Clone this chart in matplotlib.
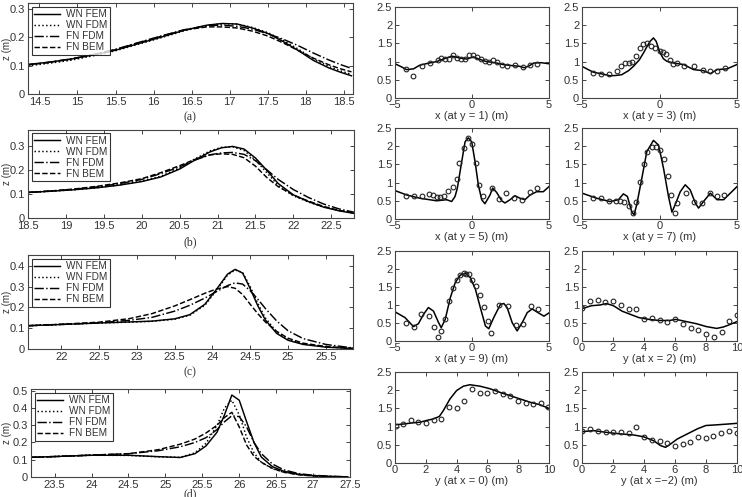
import matplotlib
matplotlib.use("Agg")
import matplotlib.pyplot as plt
from matplotlib.transforms import blended_transform_factory

plt.rcParams['font.family'] = ['Liberation Sans', 'DejaVu Sans']

W, H = 742, 497

# ---------------- left panels data ----------------
legend_labels = ["WN FEM", "WN FDM", "FN FDM", "FN BEM"]
panel_tags = ["(a)", "(b)", "(c)", "(d)"]

xa = [14.35, 14.6, 14.9, 15.2, 15.5, 15.8, 16.1, 16.4, 16.7, 16.9, 17.1, 17.3, 17.5, 17.7, 17.9, 18.1, 18.3, 18.45, 18.6]
a_wn_fem = [0.104, 0.111, 0.122, 0.137, 0.154, 0.177, 0.200, 0.224, 0.242, 0.248, 0.246, 0.232, 0.213, 0.185, 0.153, 0.118, 0.092, 0.077, 0.064]
a_wn_fdm = [0.099, 0.107, 0.118, 0.134, 0.152, 0.175, 0.198, 0.222, 0.241, 0.247, 0.246, 0.234, 0.216, 0.189, 0.158, 0.124, 0.097, 0.082, 0.069]
a_fn_fdm = [0.103, 0.111, 0.123, 0.138, 0.157, 0.181, 0.204, 0.226, 0.240, 0.242, 0.238, 0.228, 0.212, 0.193, 0.170, 0.144, 0.120, 0.104, 0.090]
a_fn_bem = [0.102, 0.110, 0.122, 0.138, 0.156, 0.180, 0.203, 0.225, 0.236, 0.236, 0.232, 0.221, 0.204, 0.180, 0.153, 0.126, 0.103, 0.089, 0.078]

xb = [18.5, 18.8, 19.1, 19.4, 19.7, 20.0, 20.25, 20.5, 20.7, 20.9, 21.05, 21.2, 21.35, 21.5, 21.65, 21.8, 22.0, 22.2, 22.4, 22.6, 22.8]
b_wn_fem = [0.106, 0.111, 0.117, 0.125, 0.136, 0.151, 0.170, 0.203, 0.240, 0.274, 0.291, 0.297, 0.286, 0.249, 0.198, 0.143, 0.096, 0.068, 0.045, 0.030, 0.019]
b_wn_fdm = [0.106, 0.111, 0.117, 0.125, 0.137, 0.153, 0.173, 0.207, 0.245, 0.278, 0.293, 0.295, 0.280, 0.240, 0.188, 0.135, 0.092, 0.066, 0.045, 0.031, 0.020]
b_fn_fdm = [0.106, 0.112, 0.119, 0.129, 0.142, 0.160, 0.184, 0.212, 0.240, 0.262, 0.270, 0.272, 0.264, 0.238, 0.200, 0.160, 0.118, 0.085, 0.058, 0.038, 0.024]
b_fn_bem = [0.106, 0.112, 0.120, 0.131, 0.145, 0.163, 0.188, 0.217, 0.243, 0.262, 0.266, 0.264, 0.250, 0.215, 0.168, 0.130, 0.095, 0.070, 0.048, 0.032, 0.021]

xc = [21.56, 22.0, 22.5, 22.9, 23.2, 23.5, 23.7, 23.9, 24.05, 24.2, 24.3, 24.4, 24.5, 24.6, 24.7, 24.85, 25.0, 25.2, 25.5, 25.86]
c_wn_fem = [0.112, 0.118, 0.125, 0.130, 0.134, 0.145, 0.165, 0.215, 0.285, 0.360, 0.383, 0.365, 0.290, 0.208, 0.140, 0.075, 0.042, 0.022, 0.009, 0.002]
c_wn_fdm = [0.112, 0.118, 0.125, 0.129, 0.133, 0.143, 0.162, 0.210, 0.280, 0.355, 0.380, 0.368, 0.300, 0.220, 0.150, 0.082, 0.046, 0.024, 0.010, 0.003]
c_fn_fdm = [0.112, 0.118, 0.126, 0.138, 0.152, 0.182, 0.210, 0.245, 0.275, 0.305, 0.318, 0.312, 0.280, 0.240, 0.195, 0.135, 0.088, 0.050, 0.022, 0.005]
c_fn_bem = [0.112, 0.119, 0.129, 0.146, 0.170, 0.207, 0.237, 0.268, 0.288, 0.300, 0.292, 0.262, 0.215, 0.170, 0.130, 0.085, 0.052, 0.028, 0.012, 0.003]

xd = [23.18, 23.6, 24.0, 24.5, 24.9, 25.2, 25.4, 25.55, 25.7, 25.8, 25.9, 26.0, 26.1, 26.2, 26.3, 26.45, 26.6, 26.8, 27.0, 27.25, 27.47]
d_wn_fem = [0.114, 0.120, 0.126, 0.126, 0.118, 0.113, 0.135, 0.180, 0.260, 0.360, 0.475, 0.445, 0.320, 0.200, 0.115, 0.060, 0.034, 0.016, 0.008, 0.003, 0.001]
d_wn_fdm = [0.114, 0.120, 0.126, 0.125, 0.117, 0.114, 0.140, 0.195, 0.300, 0.400, 0.445, 0.360, 0.230, 0.140, 0.085, 0.048, 0.028, 0.014, 0.007, 0.003, 0.001]
d_fn_fdm = [0.114, 0.120, 0.127, 0.135, 0.152, 0.175, 0.200, 0.228, 0.275, 0.320, 0.355, 0.350, 0.290, 0.200, 0.135, 0.075, 0.042, 0.020, 0.010, 0.004, 0.001]
d_fn_bem = [0.114, 0.120, 0.127, 0.135, 0.158, 0.190, 0.220, 0.255, 0.300, 0.345, 0.375, 0.290, 0.185, 0.120, 0.085, 0.050, 0.028, 0.013, 0.006, 0.002, 0.001]

left_x = [xa, xb, xc, xd]
left_series = [
    [a_wn_fem, a_wn_fdm, a_fn_fdm, a_fn_bem],
    [b_wn_fem, b_wn_fdm, b_fn_fdm, b_fn_bem],
    [c_wn_fem, c_wn_fdm, c_fn_fdm, c_fn_bem],
    [d_wn_fem, d_wn_fdm, d_fn_fdm, d_fn_bem],
]
left_xlim = [(14.35, 18.62), (18.5, 22.8), (21.56, 25.86), (23.18, 27.5)]
left_ylim = [(0, 0.32), (0, 0.365), (0, 0.452), (0, 0.51)]
left_xticks = [
    [14.5, 15, 15.5, 16, 16.5, 17, 17.5, 18, 18.5],
    [18.5, 19, 19.5, 20, 20.5, 21, 21.5, 22, 22.5],
    [22, 22.5, 23, 23.5, 24, 24.5, 25, 25.5],
    [23.5, 24, 24.5, 25, 25.5, 26, 26.5, 27, 27.5],
]
left_yticks = [[0, 0.1, 0.2, 0.3], [0, 0.1, 0.2, 0.3], [0, 0.1, 0.2, 0.3, 0.4], [0, 0.1, 0.2, 0.3, 0.4, 0.5]]
# pixel boxes (left, top, right, bottom)
left_boxes = [(28, 3, 353, 94), (28, 130, 354, 218), (28, 255, 353, 349), (31, 389, 350, 477)]
tag_y = [117, 242, 372, 494]

# ---------------- right panels data ----------------
r1c1_lx = [-5, -4.6, -4.25, -3.8, -3.4, -2.9, -2.3, -1.8, -1.3, -0.8, -0.35, 0.1, 0.5, 0.95, 1.5, 2.0, 2.6, 3.1, 3.4, 3.7, 4.0, 4.5, 5]
r1c1_ly = [0.94, 0.86, 0.78, 0.80, 0.90, 0.95, 1.0, 1.08, 1.15, 1.10, 1.07, 1.13, 1.06, 1.0, 0.97, 0.92, 0.89, 0.87, 0.83, 0.88, 0.96, 0.97, 0.94]
r1c1_px = [-4.29, -3.8, -3.23, -2.73, -2.23, -2.01, -1.75, -1.49, -1.26, -0.95, -0.74, -0.45, -0.17, 0.09, 0.30, 0.56, 0.84, 1.10, 1.34, 1.60, 1.93, 2.25, 2.79, 3.33, 3.77, 4.24]
r1c1_py = [0.81, 0.61, 0.87, 0.96, 1.04, 1.10, 1.06, 1.06, 1.17, 1.10, 1.07, 1.07, 1.17, 1.17, 1.13, 1.06, 1.01, 1.00, 1.04, 0.98, 0.92, 0.89, 0.90, 0.84, 0.92, 0.94]

r1c2_lx = [-5, -4.6, -4.27, -3.7, -3.19, -2.8, -2.44, -2.0, -1.68, -1.3, -1.03, -0.8, -0.6, -0.39, -0.22, 0.04, 0.25, 0.47, 0.91, 1.55, 2.2, 2.84, 3.28, 3.71, 4.35, 5]
r1c2_ly = [0.87, 0.78, 0.71, 0.66, 0.61, 0.62, 0.64, 0.75, 0.87, 1.05, 1.24, 1.42, 1.56, 1.65, 1.56, 1.24, 1.08, 1.01, 0.96, 0.92, 0.78, 0.75, 0.67, 0.78, 0.80, 0.92]
r1c2_px = [-4.31, -3.77, -3.28, -2.76, -2.50, -2.22, -2.00, -1.79, -1.51, -1.29, -1.08, -0.82, -0.54, -0.28, 0.00, 0.22, 0.43, 0.65, 0.86, 1.12, 1.55, 2.20, 2.80, 3.28, 3.71, 4.25]
r1c2_py = [0.69, 0.67, 0.67, 0.75, 0.87, 0.96, 0.96, 0.98, 1.15, 1.38, 1.49, 1.51, 1.44, 1.38, 1.28, 1.26, 1.21, 1.04, 0.94, 0.96, 0.89, 0.87, 0.78, 0.73, 0.75, 0.83]

r2c1_lx = [-5, -4.24, -3.38, -2.29, -1.65, -1.32, -1.1, -0.95, -0.67, -0.45, -0.24, -0.02, 0.2, 0.41, 0.63, 0.84, 1.17, 1.34, 1.6, 1.93, 2.14, 2.47, 2.79, 3.12, 3.44, 3.77, 4.2, 4.63, 5]
r2c1_ly = [0.78, 0.66, 0.57, 0.50, 0.53, 0.48, 0.62, 0.85, 1.57, 2.12, 2.23, 2.12, 1.57, 0.94, 0.53, 0.42, 0.66, 0.85, 0.73, 0.50, 0.44, 0.53, 0.64, 0.57, 0.53, 0.66, 0.75, 0.75, 0.89]
r2c1_px = [-4.29, -3.74, -3.27, -2.77, -2.51, -2.29, -2.08, -1.82, -1.54, -1.26, -1.00, -0.82, -0.52, -0.24, 0.02, 0.26, 0.48, 0.74, 1.28, 1.77, 2.21, 2.73, 3.23, 3.77, 4.24]
r2c1_py = [0.62, 0.62, 0.64, 0.69, 0.65, 0.60, 0.60, 0.64, 0.78, 0.87, 1.10, 1.55, 1.95, 2.23, 2.05, 1.55, 0.94, 0.62, 0.86, 0.55, 0.71, 0.59, 0.51, 0.75, 0.86]

r2c2_lx = [-5, -4.05, -3.19, -2.65, -2.33, -2.07, -1.79, -1.64, -1.47, -1.14, -0.82, -0.39, -0.06, 0.26, 0.58, 0.8, 1.01, 1.34, 1.66, 1.98, 2.31, 2.52, 2.84, 3.28, 3.71, 4.14, 4.57, 5]
r2c2_ly = [0.71, 0.57, 0.48, 0.53, 0.69, 0.62, 0.19, 0.12, 0.39, 1.12, 1.85, 2.16, 2.03, 1.39, 0.62, 0.19, 0.39, 0.75, 0.94, 0.80, 0.44, 0.30, 0.48, 0.71, 0.53, 0.53, 0.71, 0.89]
r2c2_px = [-4.31, -3.77, -3.28, -2.82, -2.54, -2.26, -2.00, -1.72, -1.53, -1.25, -1.03, -0.78, -0.50, -0.24, 0.00, 0.26, 0.52, 0.75, 0.97, 1.16, 1.72, 2.24, 2.74, 3.28, 3.71, 4.18]
r2c2_py = [0.59, 0.59, 0.49, 0.50, 0.50, 0.48, 0.37, 0.16, 0.48, 1.03, 1.51, 1.85, 1.98, 1.98, 1.89, 1.65, 1.19, 0.65, 0.16, 0.44, 0.71, 0.48, 0.44, 0.71, 0.62, 0.66]

r3c1_lx = [-5, -4.35, -3.8, -3.48, -3.15, -2.83, -2.5, -2.17, -2.0, -1.74, -1.41, -1.09, -0.76, -0.43, -0.11, 0.22, 0.54, 0.87, 1.09, 1.41, 1.85, 2.07, 2.28, 2.61, 2.93, 3.26, 3.59, 3.91, 4.24, 4.67, 5]
r3c1_ly = [0.81, 0.65, 0.40, 0.48, 0.74, 0.93, 0.83, 0.51, 0.37, 0.60, 1.20, 1.62, 1.83, 1.88, 1.76, 1.44, 0.93, 0.42, 0.34, 0.65, 1.02, 1.04, 0.93, 0.51, 0.28, 0.51, 0.79, 0.89, 0.80, 0.69, 0.78]
r3c1_px = [-4.28, -3.74, -3.3, -2.76, -2.5, -2.24, -2.0, -1.74, -1.52, -1.24, -0.98, -0.76, -0.54, -0.37, -0.22, 0.0, 0.28, 0.5, 0.76, 1.02, 1.26, 1.78, 2.33, 2.83, 3.33, 3.8, 4.28]
r3c1_py = [0.51, 0.40, 0.74, 0.69, 0.40, 0.11, 0.28, 0.60, 1.11, 1.48, 1.69, 1.83, 1.88, 1.87, 1.85, 1.69, 1.53, 1.27, 0.94, 0.56, 0.23, 1.0, 0.97, 0.44, 0.48, 0.97, 0.88]

r3c2_lx = [0, 0.61, 1.16, 1.59, 2.03, 2.58, 3.12, 3.67, 4.32, 4.98, 5.63, 6.07, 6.72, 7.38, 8.03, 8.69, 9.13, 9.56, 10]
r3c2_ly = [0.90, 0.98, 1.00, 1.04, 0.98, 0.83, 0.74, 0.65, 0.60, 0.57, 0.57, 0.60, 0.54, 0.48, 0.40, 0.35, 0.39, 0.46, 0.54]
r3c2_px = [0.0, 0.5, 1.0, 1.5, 2.0, 2.5, 3.0, 3.5, 4.0, 4.5, 5.0, 5.5, 6.0, 6.5, 7.0, 7.5, 8.0, 8.5, 9.0, 9.5, 10.0]
r3c2_py = [0.93, 1.11, 1.13, 1.09, 1.11, 1.00, 0.90, 0.90, 0.62, 0.65, 0.58, 0.54, 0.60, 0.46, 0.37, 0.30, 0.20, 0.11, 0.26, 0.56, 0.72]

r4c1_lx = [0, 0.54, 1.08, 1.62, 2.06, 2.49, 2.88, 3.14, 3.57, 4.0, 4.44, 4.87, 5.52, 6.17, 6.82, 7.47, 8.12, 8.77, 9.42, 10]
r4c1_ly = [1.05, 1.07, 1.10, 1.12, 1.17, 1.21, 1.28, 1.44, 1.76, 1.99, 2.11, 2.15, 2.11, 2.04, 1.94, 1.85, 1.76, 1.67, 1.60, 1.50]
r4c1_px = [0.06, 0.52, 1.02, 1.52, 2.01, 2.51, 3.01, 3.51, 4.0, 4.5, 5.0, 5.5, 6.0, 6.49, 6.99, 7.49, 7.99, 8.48, 8.98, 9.48, 9.96]
r4c1_py = [1.03, 1.07, 1.17, 1.14, 1.10, 1.17, 1.21, 1.55, 1.51, 1.70, 2.02, 1.93, 1.93, 1.97, 1.90, 1.83, 1.70, 1.64, 1.62, 1.65, 1.55]

r4c2_lx = [0, 0.74, 1.6, 2.47, 3.33, 3.98, 4.63, 5.06, 5.39, 5.71, 6.15, 6.8, 7.45, 7.99, 8.74, 9.39, 10]
r4c2_ly = [0.86, 0.89, 0.84, 0.80, 0.77, 0.72, 0.61, 0.48, 0.43, 0.52, 0.66, 0.80, 0.94, 1.03, 1.05, 1.07, 1.09]
r4c2_px = [0.0, 0.52, 1.02, 1.52, 2.01, 2.51, 3.01, 3.51, 4.0, 4.5, 5.0, 5.5, 5.99, 6.49, 6.99, 7.49, 7.99, 8.48, 8.98, 9.48, 9.98]
r4c2_py = [0.87, 0.94, 0.89, 0.86, 0.86, 0.84, 0.83, 1.0, 0.71, 0.63, 0.60, 0.55, 0.46, 0.52, 0.59, 0.71, 0.69, 0.75, 0.82, 0.87, 0.83]

right_lines = [(r1c1_lx, r1c1_ly), (r1c2_lx, r1c2_ly), (r2c1_lx, r2c1_ly), (r2c2_lx, r2c2_ly),
               (r3c1_lx, r3c1_ly), (r3c2_lx, r3c2_ly), (r4c1_lx, r4c1_ly), (r4c2_lx, r4c2_ly)]
right_pts = [(r1c1_px, r1c1_py), (r1c2_px, r1c2_py), (r2c1_px, r2c1_py), (r2c2_px, r2c2_py),
             (r3c1_px, r3c1_py), (r3c2_px, r3c2_py), (r4c1_px, r4c1_py), (r4c2_px, r4c2_py)]
right_xlabels = ["x (at y = 1) (m)", "x (at y = 3) (m)", "x (at y = 5) (m)", "x (at y = 7) (m)",
                 "x (at y = 9) (m)", "y (at x = 2) (m)", "y (at x = 0) (m)", "y (at x =\u22122) (m)"]
right_yticks = [0, 0.5, 1, 1.5, 2, 2.5]
right_ytick_labels = ["0", "0.5", "1", "1.5", "2", "2.5"]
right_xticks_a = [-5, 0, 5]
right_xticks_b = [0, 2, 4, 6, 8, 10]
right_kind = ["a", "a", "a", "a", "a", "b", "b", "b"]
right_cols = [(395, 549), (582, 737)]
right_rows = [(7, 98), (128, 219), (251, 341), (372, 463)]

TXT = '#333333'
SP = '#444444'


def add_px_axes(fig, l, t, r, b):
    return fig.add_axes([l / W, 1 - b / H, (r - l) / W, (b - t) / H])


def style(ax):
    for s in ax.spines.values():
        s.set_color(SP)
        s.set_linewidth(0.8)
    ax.tick_params(direction='in', top=True, right=True, length=3, width=0.7,
                   labelsize=8, colors=SP, labelcolor=TXT, pad=2)


fig = plt.figure(figsize=(W / 100, H / 100), dpi=100)
fig.patch.set_facecolor('white')

styles = ['-', ':', '-.', '--']
for i in range(4):
    l, t, r, b = left_boxes[i]
    ax = add_px_axes(fig, l, t, r, b)
    style(ax)
    xs = left_x[i]
    for ys, ls, lab in zip(left_series[i], styles, legend_labels):
        ax.plot(xs, ys, color='black', linestyle=ls, linewidth=1.05, label=lab)
    ax.set_xlim(*left_xlim[i])
    ax.set_ylim(*left_ylim[i])
    ax.set_xticks(left_xticks[i])
    ax.set_xticklabels([('%g' % v) for v in left_xticks[i]])
    ax.set_yticks(left_yticks[i])
    ax.set_yticklabels([('%g' % v) for v in left_yticks[i]])
    ax.set_ylabel('z (m)', fontsize=7, color=TXT)
    ax.yaxis.set_label_coords(11.5 / W, 0.5, transform=blended_transform_factory(fig.transFigure, ax.transAxes))
    leg = ax.legend(loc='upper left', fontsize=7.2, frameon=True, fancybox=False,
                    edgecolor='black', handlelength=2.6, handletextpad=0.6,
                    labelspacing=0.1, borderpad=0.25, borderaxespad=0.35)
    leg.get_frame().set_linewidth(0.8)
    for txt in leg.get_texts():
        txt.set_color(TXT)
    fig.text(190 / W, 1 - tag_y[i] / H, panel_tags[i], ha='center', va='center',
             fontsize=8.5, family='Liberation Serif', color=TXT)

for k in range(8):
    row, col = divmod(k, 2)
    l, r = right_cols[col]
    t, b = right_rows[row]
    ax = add_px_axes(fig, l, t, r, b)
    style(ax)
    lx, ly = right_lines[k]
    px, py = right_pts[k]
    ax.plot(lx, ly, color='black', linewidth=1.1)
    ax.plot(px, py, linestyle='none', marker='o', markersize=3.4,
            markerfacecolor='none', markeredgecolor='#222222', markeredgewidth=0.8)
    if right_kind[k] == 'a':
        ax.set_xlim(-5, 5)
        ax.set_xticks(right_xticks_a)
        ax.set_xticklabels(['\u22125', '0', '5'])
    else:
        ax.set_xlim(0, 10)
        ax.set_xticks(right_xticks_b)
        ax.set_xticklabels([str(v) for v in right_xticks_b])
    ax.set_ylim(0, 2.5)
    ax.set_yticks(right_yticks)
    ax.set_yticklabels(right_ytick_labels)
    ax.tick_params(axis='x', pad=1.5)
    ax.set_xlabel(right_xlabels[k], fontsize=8, color=TXT, labelpad=1)

fig.savefig('out.png', dpi=100, facecolor='white')
